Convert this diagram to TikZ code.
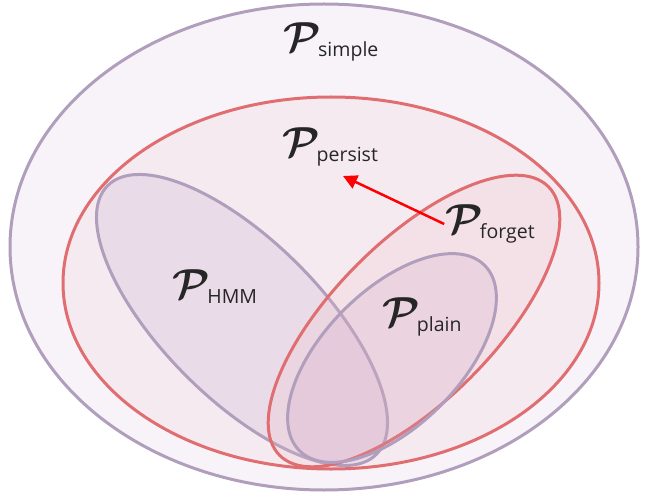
\RequirePackage{fix-cm}
\documentclass[tikz,border=0pt]{standalone}
\usepackage{amsmath}
\usepackage{fontspec}
\setsansfont{Open Sans}
\usetikzlibrary{arrows.meta}
\definecolor{purp}{RGB}{176,158,188}
\definecolor{redl}{RGB}{224,110,112}
\definecolor{fillout}{RGB}{247,243,249}
\definecolor{fillpers}{RGB}{246,234,241}
\definecolor{fillhmm}{RGB}{190,160,200}
\definecolor{fillforget}{RGB}{240,190,200}
\definecolor{fillplain}{RGB}{200,160,195}
\newcommand{\Plab}[1]{{\fontsize{42}{42}\selectfont$\boldsymbol{\mathcal{P}}$}\kern-3pt\raisebox{-5pt}{\fontsize{19.5}{20}\selectfont\sffamily #1}}
\tikzset{
  ring/.style={line width=3pt},
  lab/.style={inner sep=1pt, text=black!85},
  arr/.style={draw=red, line width=2.5pt, -{Triangle[length=14pt,width=14pt]}}
}
\begin{document}
\begin{tikzpicture}[x=1pt,y=-1pt]
\useasboundingbox (0,0) rectangle (645,497);
% outer
\draw[ring, draw=purp, fill=fillout] (324,247) ellipse [x radius=314pt, y radius=243pt];
% persist
\draw[ring, draw=redl, fill=fillpers] (331,283) ellipse [x radius=268pt, y radius=186pt];
% HMM
\draw[ring, draw=purp, fill=fillhmm, fill opacity=0.2, rotate around={-45:(242,320)}] (242,320) ellipse [x radius=190pt, y radius=79pt];
% forget
\draw[ring, draw=redl, fill=fillforget, fill opacity=0.2, rotate around={45:(414,321)}] (414,321) ellipse [x radius=190pt, y radius=80pt];
% plain
\draw[ring, draw=purp, fill=fillplain, fill opacity=0.2, rotate around={45:(392,358)}] (392,358) ellipse [x radius=131pt, y radius=68pt];
% labels
\node[lab] (simple) at (331,42) {\Plab{simple}};
\node[lab] (persist) at (330,147) {\Plab{persist}};
\node[lab] (forget) at (490,224) {\Plab{forget}};
\node[lab] (hmm) at (215,287) {\Plab{HMM}};
\node[lab] (plain) at (422,317) {\Plab{plain}};
\coordinate (tip) at (343,176);
\draw[arr] (forget.west) -- (tip);
\end{tikzpicture}
\end{document}
